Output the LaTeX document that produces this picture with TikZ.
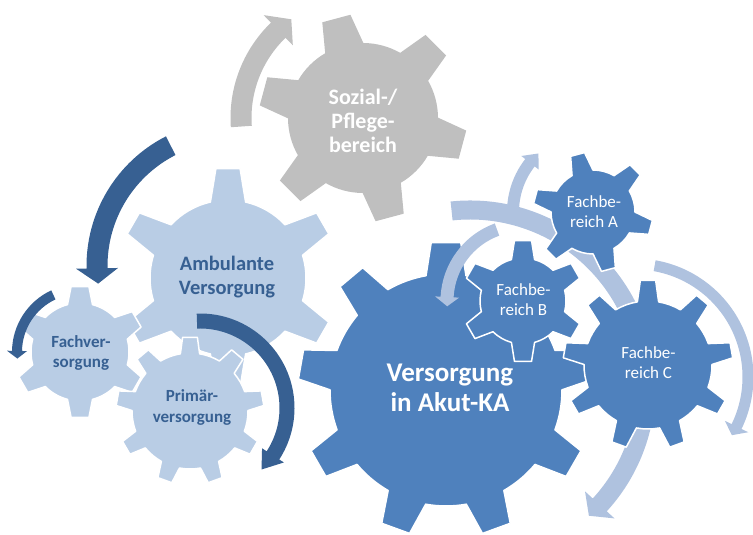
\documentclass[tikz,border=0pt]{standalone}
\usepackage{fontspec}
\setmainfont{Carlito}
\definecolor{graygear}{HTML}{BFBFBF}
\definecolor{lightgear}{HTML}{B9CDE5}
\definecolor{darkgear}{HTML}{4F81BD}
\definecolor{darkarrow}{HTML}{376092}
\definecolor{lightarrow}{HTML}{AFC2DF}
\definecolor{lighttext}{HTML}{376092}

% gear: cx cy rin rout n offset basefrac tipfrac style
\newcommand\gearshape[9]{%
  \pgfmathsetmacro\gStep{360/#5}%
  \pgfmathsetmacro\gHb{asin(#7*#4/#3)}%
  \pgfmathsetmacro\gHt{asin(#8)}%
  \path[#9,shift={(#1,#2)}] ({#6-\gHb}:#3)
    \foreach \k in {1,...,#5} {
      -- ({#6+(\k-1)*\gStep-\gHt}:#4) -- ({#6+(\k-1)*\gStep+\gHt}:#4)
      -- ({#6+(\k-1)*\gStep+\gHb}:#3)
      arc[start angle={#6+(\k-1)*\gStep+\gHb}, end angle={#6+\k*\gStep-\gHb}, radius=#3]
    } -- cycle;
}
% circular arrow: cx cy r a1 a2 w hw atip style
\newcommand\circarrow[9]{%
  \pgfmathsetmacro\caRo{#3+#6/2}%
  \pgfmathsetmacro\caRi{#3-#6/2}%
  \pgfmathsetmacro\caWo{#3+#7}%
  \pgfmathsetmacro\caWi{#3-#7}%
  \fill[#9,shift={(#1,#2)}] (#4:\caRo) arc[start angle=#4, end angle=#5, radius=\caRo]
    -- (#5:\caWo) -- (#8:#3) -- (#5:\caWi) -- (#5:\caRi)
    arc[start angle=#5, end angle=#4, radius=\caRi] -- cycle;
}

\tikzset{
  ggray/.style={fill=graygear},
  glight/.style={fill=lightgear, draw=white, line width=1.5pt, line join=round},
  gdark/.style={fill=darkgear, draw=white, line width=1.5pt, line join=round},
  lighttxt/.style={align=center, text=lighttext, font=\bfseries},
  darktxt/.style={align=center, text=white},
}

\begin{document}
\begin{tikzpicture}[x=1pt,y=1pt]
\useasboundingbox (0,0) rectangle (753,535);

% gray gear and arrow
\circarrow{363}{417}{122}{184}{134}{21}{21}{126}{graygear}
\gearshape{363}{417}{75}{104}{6}{45}{0.19}{0.14}{ggray}
\node[darktxt, font=\fontsize{22}{24}\selectfont\bfseries] (soz) at (363,414) {Sozial-/\\Pflege-\\bereich};

% light gears
\gearshape{228}{257}{78}{110}{6}{90}{0.16}{0.11}{glight}
\gearshape{80}{183}{49}{66}{6}{90}{0.19}{0.135}{glight}
\gearshape{190}{124}{58}{74}{9}{90}{0.13}{0.10}{glight}

\node[lighttxt, font=\fontsize{20.5}{24}\selectfont\bfseries] (amb) at (227,257.5) {Ambulante\\Versorgung};
\node[lighttxt, font=\fontsize{17}{20}\selectfont\bfseries] (fach) at (81,182) {Fachver-\\sorgung};
\node[lighttxt, font=\fontsize{17}{20.5}\selectfont\bfseries] (prim) at (192,127.5) {Primär-\\versorgung};

% dark arrows
\circarrow{232}{269}{135}{117}{181}{21}{21}{187.5}{darkarrow}
\circarrow{80}{183}{63}{115}{179}{10}{10}{186}{darkarrow}
\circarrow{200}{127}{87}{92}{-33}{15}{13}{-45}{darkarrow}

% big gear and B
\gearshape{446}{145}{116}{148}{9}{90}{0.135}{0.10}{gdark}
\gearshape{523}{234}{43}{61}{6}{90}{0.19}{0.14}{gdark}

% light arrows
\circarrow{470}{149}{176}{96}{-42.5}{19}{20}{-47.5}{lightarrow}
\circarrow{593}{323}{80}{188}{142}{12}{11}{133}{lightarrow}
\circarrow{523}{234}{76}{110}{177}{13}{12}{184}{lightarrow}
\circarrow{635}{158}{113}{80}{-26}{11}{13}{-31}{lightarrow}

% A and C
\gearshape{593}{323}{42}{60}{6}{45}{0.18}{0.12}{gdark}
\gearshape{648}{170}{64}{85}{9}{90}{0.125}{0.09}{gdark}

\node[darktxt, font=\fontsize{27}{30}\selectfont\bfseries] (akut) at (450,147) {Versorgung\\in Akut-KA};
\node[darktxt, font=\fontsize{17}{20}\selectfont] (fa) at (594,323) {Fachbe-\\reich A};
\node[darktxt, font=\fontsize{17}{20}\selectfont] (fb) at (523.5,235) {Fachbe-\\reich B};
\node[darktxt, font=\fontsize{17}{20}\selectfont] (fc) at (648.5,172) {Fachbe-\\reich C};
\end{tikzpicture}
\end{document}
